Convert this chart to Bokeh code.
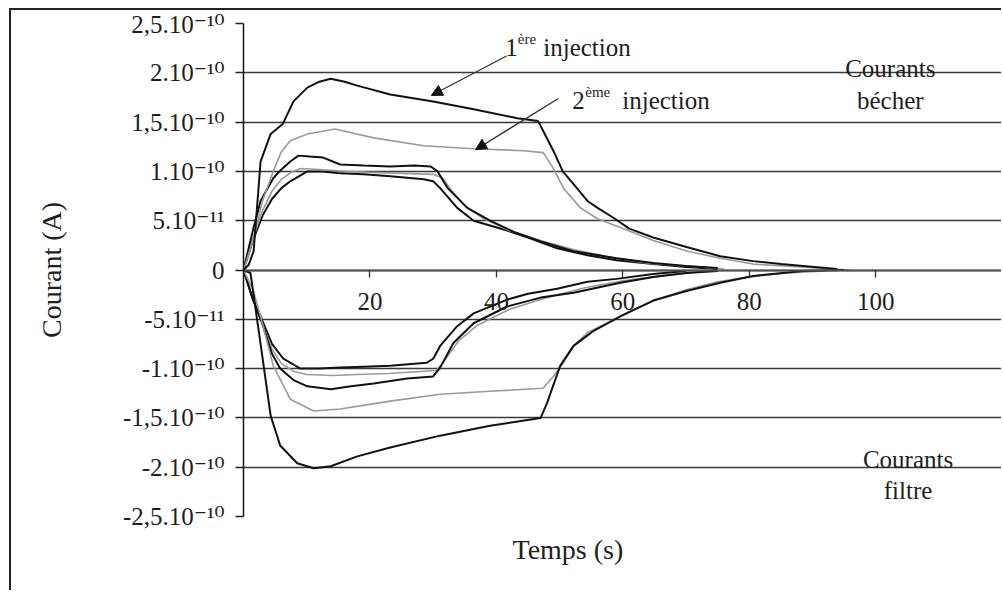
from bokeh.plotting import figure
from bokeh.models import (FixedTicker, Label, Arrow, NormalHead, Title)
from bokeh.embed import file_html
from bokeh.resources import INLINE

# ---- data (time in s, current in units of 1e-10 A) ----
# Courants bécher, 1ère injection (black)
a_t = [0, 0.8, 1.6, 2.7, 4.3, 6.2, 7.9, 10.1, 12, 13.8, 16, 18, 23.2, 30, 36.4, 43.3, 46.6,
       47.4, 49, 50.5, 52.2, 54.4, 56, 58.5, 61, 64.8, 70.2, 75.4, 80.6, 85, 88.5, 93.9]
a_i = [0, 0.05, 0.19, 1.1, 1.38, 1.48, 1.71, 1.85, 1.91, 1.94, 1.91, 1.87, 1.78, 1.71, 1.63, 1.54, 1.51,
       1.41, 1.21, 1.0, 0.87, 0.70, 0.63, 0.53, 0.42, 0.33, 0.23, 0.14, 0.09, 0.06, 0.04, 0.01]
# Courants bécher, 2ème injection (grey)
b_t = [0, 1.5, 3.0, 4.7, 6, 7.4, 10.1, 14.5, 20.6, 28.5, 36.4, 44.3, 47.4, 49, 50.6, 53.3, 56,
       59.6, 64.8, 70.2, 75.4, 80.6, 88, 96]
b_i = [0, 0.3, 0.7, 1.0, 1.2, 1.31, 1.38, 1.43, 1.34, 1.26, 1.23, 1.21, 1.19, 1.03, 0.83, 0.63, 0.52,
       0.43, 0.30, 0.19, 0.12, 0.06, 0.03, 0.0]
# short injections, bécher
c1_t = [0, 1.6, 2.7, 4.7, 6, 7.4, 8.7, 10.5, 12.6, 15.3, 19, 23.2, 27, 29.6, 30.7, 32.3, 35.4, 39,
        43, 47, 52.2, 59, 64.8, 70, 75]
c1_i = [0, 0.43, 0.70, 0.93, 1.02, 1.1, 1.16, 1.15, 1.14, 1.07, 1.06, 1.05, 1.06, 1.05, 1.0, 0.83, 0.63,
        0.50, 0.38, 0.29, 0.19, 0.12, 0.07, 0.04, 0.02]
c2_t = [0, 1.5, 3, 4.5, 6, 7.4, 10.1, 12.5, 15.3, 19, 23.2, 28.5, 30, 31.1, 33.8, 36.4, 41.7, 45,
        49.6, 54.4, 59, 64.8, 70, 75]
c2_i = [0, 0.3, 0.55, 0.72, 0.83, 0.9, 1.0, 1.0, 0.98, 0.97, 0.95, 0.92, 0.9, 0.83, 0.63, 0.50, 0.40, 0.33,
        0.22, 0.15, 0.1, 0.06, 0.03, 0.01]
c3_t = [0, 1.5, 3, 4.5, 6, 7.5, 9, 12, 16, 20, 25, 30, 31.5, 33, 35, 38, 42, 47, 52, 58, 64, 70, 76]
c3_i = [0, 0.32, 0.6, 0.8, 0.92, 0.99, 1.03, 1.02, 1.0, 0.99, 0.98, 0.97, 0.93, 0.8, 0.65, 0.52, 0.40,
        0.30, 0.21, 0.13, 0.07, 0.04, 0.01]
# Courants filtre, 1ère injection (black)
d_t = [0, 1.1, 2.7, 4.3, 5.8, 8.5, 11.1, 13.8, 18, 23.2, 31.1, 39, 47, 48, 50.1, 52.2, 55.3, 59.6,
       64.8, 70.2, 75.4, 80.6, 88.5, 95]
d_i = [0, -0.03, -0.75, -1.48, -1.78, -1.96, -2.01, -1.99, -1.89, -1.80, -1.68, -1.58, -1.50, -1.35,
       -0.97, -0.77, -0.62, -0.47, -0.31, -0.21, -0.13, -0.06, -0.01, 0.0]
# Courants filtre, 2ème injection (grey)
e_t = [0, 1.5, 2.7, 4.7, 7.4, 11.1, 15.3, 23.2, 31.1, 39, 47.4, 49, 50.6, 52.2, 54.5, 57.5, 61, 65,
       70, 75, 80, 86, 92]
e_i = [0, -0.2, -0.47, -0.97, -1.31, -1.43, -1.41, -1.33, -1.26, -1.23, -1.2, -1.08, -0.94, -0.77,
       -0.63, -0.54, -0.42, -0.31, -0.2, -0.12, -0.07, -0.03, -0.01]
# short injections, filtre
f1_t = [0, 1.5, 2.7, 4.5, 6.3, 9, 12, 15.3, 19, 23.2, 27, 29, 30, 31.1, 33.8, 36.4, 41.7, 45, 49.6,
        54.4, 59, 64.8, 70]
f1_i = [0, -0.3, -0.47, -0.75, -0.9, -1.0, -1.0, -0.99, -0.98, -0.97, -0.95, -0.94, -0.9, -0.77, -0.57,
        -0.44, -0.30, -0.24, -0.19, -0.12, -0.09, -0.04, -0.01]
f2_t = [0, 1.5, 3, 4.5, 5.8, 8, 10.1, 13.8, 17, 20.6, 25.9, 30, 31.1, 33.2, 36.4, 41.7, 47, 52.2,
        59.6, 64.8, 70, 75]
f2_i = [0, -0.3, -0.55, -0.85, -1.0, -1.12, -1.18, -1.21, -1.18, -1.15, -1.1, -1.08, -0.99, -0.74,
        -0.54, -0.37, -0.28, -0.23, -0.13, -0.07, -0.03, -0.01]
f3_t = [0, 1.5, 3, 4.5, 6, 8, 10, 14, 18, 23, 28, 30.5, 32, 34, 37, 42, 48, 54, 60, 66, 72]
f3_i = [0, -0.3, -0.55, -0.8, -0.95, -1.03, -1.06, -1.07, -1.06, -1.05, -1.03, -1.02, -0.9, -0.72,
        -0.56, -0.40, -0.28, -0.18, -0.11, -0.06, -0.02]

x_ticks = [20, 40, 60, 80, 100]
y_ticks = [2.5, 2, 1.5, 1, 0.5, 0, -0.5, -1, -1.5, -2, -2.5]
y_labels = ["2,5.10\u207b\u00b9\u2070", "2.10\u207b\u00b9\u2070", "1,5.10\u207b\u00b9\u2070",
            "1.10\u207b\u00b9\u2070", "5.10\u207b\u00b9\u00b9", "0", "-5.10\u207b\u00b9\u00b9",
            "-1.10\u207b\u00b9\u2070", "-1,5.10\u207b\u00b9\u2070", "-2.10\u207b\u00b9\u2070",
            "-2,5.10\u207b\u00b9\u2070"]

FONT = "Liberation Serif"
TICKFONT = "'Liberation Serif', 'DejaVu Serif'"
TXT = "#1e1e1e"
BLACK = "#111111"
GREY = "#9a9a9a"

p = figure(width=992, height=582, x_range=(0, 120.2), y_range=(-2.5, 2.5),
           output_backend="svg", toolbar_location=None, title=None,
           min_border_left=232, min_border_right=0, min_border_top=13, min_border_bottom=76,
           styles={"margin-left": "9px", "margin-top": "8px",
                   "border-left": "2px solid #222222", "border-top": "2px solid #222222"})
p.outline_line_color = None
p.background_fill_color = "white"
p.border_fill_color = "white"

# grid
p.xgrid.grid_line_color = None
p.ygrid.ticker = FixedTicker(ticks=y_ticks)
p.ygrid.grid_line_color = "#3a3a3a"
p.ygrid.grid_line_width = 1.4

# y axis
ya = p.yaxis[0]
ya.ticker = FixedTicker(ticks=y_ticks)
ya.major_label_overrides = {float(k): v for k, v in zip(y_ticks, y_labels)}
ya.minor_tick_line_color = None
ya.major_tick_out = 8
ya.major_tick_in = 0
ya.major_tick_line_color = "#222222"
ya.major_tick_line_width = 1.3
ya.axis_line_color = "#111111"
ya.axis_line_width = 1.5
ya.major_label_text_font = TICKFONT
ya.major_label_text_font_size = "25px"
ya.major_label_text_color = TXT
ya.major_label_standoff = 11
ya.axis_label = "Courant (A)"
ya.axis_label_text_font = FONT
ya.axis_label_text_font_size = "28px"
ya.axis_label_text_font_style = "normal"
ya.axis_label_text_color = TXT
ya.axis_label_standoff = 53

# x axis at zero
xa = p.xaxis[0]
xa.fixed_location = 0
xa.ticker = FixedTicker(ticks=x_ticks)
xa.minor_tick_line_color = None
xa.major_tick_out = 7
xa.major_tick_in = 0
xa.major_tick_line_color = "#333333"
xa.major_tick_line_width = 1.3
xa.axis_line_color = "#505050"
xa.axis_line_width = 2
xa.major_label_text_font = FONT
xa.major_label_text_font_size = "25px"
xa.major_label_text_color = TXT
xa.major_label_standoff = 16

# x title below the plot area (placed like the original, left of the frame centre)
p.add_layout(Title(text="Temps (s)", align="left", offset=269, standoff=31,
                   text_font=FONT, text_font_size="28px", text_font_style="normal",
                   text_color=TXT), "below")

# curves
curves = [
    (c2_t, c2_i, BLACK, 2.0), (c3_t, c3_i, GREY, 1.6), (c1_t, c1_i, BLACK, 2.0),
    (f1_t, f1_i, BLACK, 2.0), (f3_t, f3_i, GREY, 1.6), (f2_t, f2_i, BLACK, 2.0),
    (b_t, b_i, GREY, 1.6), (e_t, e_i, GREY, 1.6),
    (a_t, a_i, BLACK, 2.0), (d_t, d_i, BLACK, 2.0),
]
for t, i, col, w in curves:
    p.line(t, i, line_color=col, line_width=w)

# annotations
def lab(x, y, text, size="25px", xo=0, yo=0, align="left", baseline="alphabetic"):
    p.add_layout(Label(x=x, y=y, text=text, x_offset=xo, y_offset=yo,
                       text_font=FONT, text_font_size=size, text_color=TXT,
                       text_align=align, text_baseline=baseline))

lab(41.4, 2.26, "1")
lab(41.4, 2.26, "\u00e8re", size="15px", xo=12.5, yo=8)
lab(41.4, 2.26, "injection", xo=38)
lab(52.0, 1.72, "2")
lab(52.0, 1.72, "\u00e8me", size="15px", xo=13, yo=8)
lab(52.0, 1.72, "injection", xo=50)

lab(102.3, 2.04, "Courants", align="center")
lab(102.3, 1.714, "b\u00e9cher", align="center")
lab(105.1, -1.917, "Courants", align="center")
lab(105.1, -2.24, "filtre", align="center")

p.add_layout(Arrow(x_start=41.6, y_start=2.17, x_end=29.7, y_end=1.77,
                   line_color="#333333", line_width=1.3,
                   end=NormalHead(size=11, fill_color="#111111", line_color="#111111")))
p.add_layout(Arrow(x_start=49.8, y_start=1.74, x_end=36.7, y_end=1.22,
                   line_color="#333333", line_width=1.3,
                   end=NormalHead(size=11, fill_color="#111111", line_color="#111111")))

open("out.html", "w").write(file_html(p, INLINE))
